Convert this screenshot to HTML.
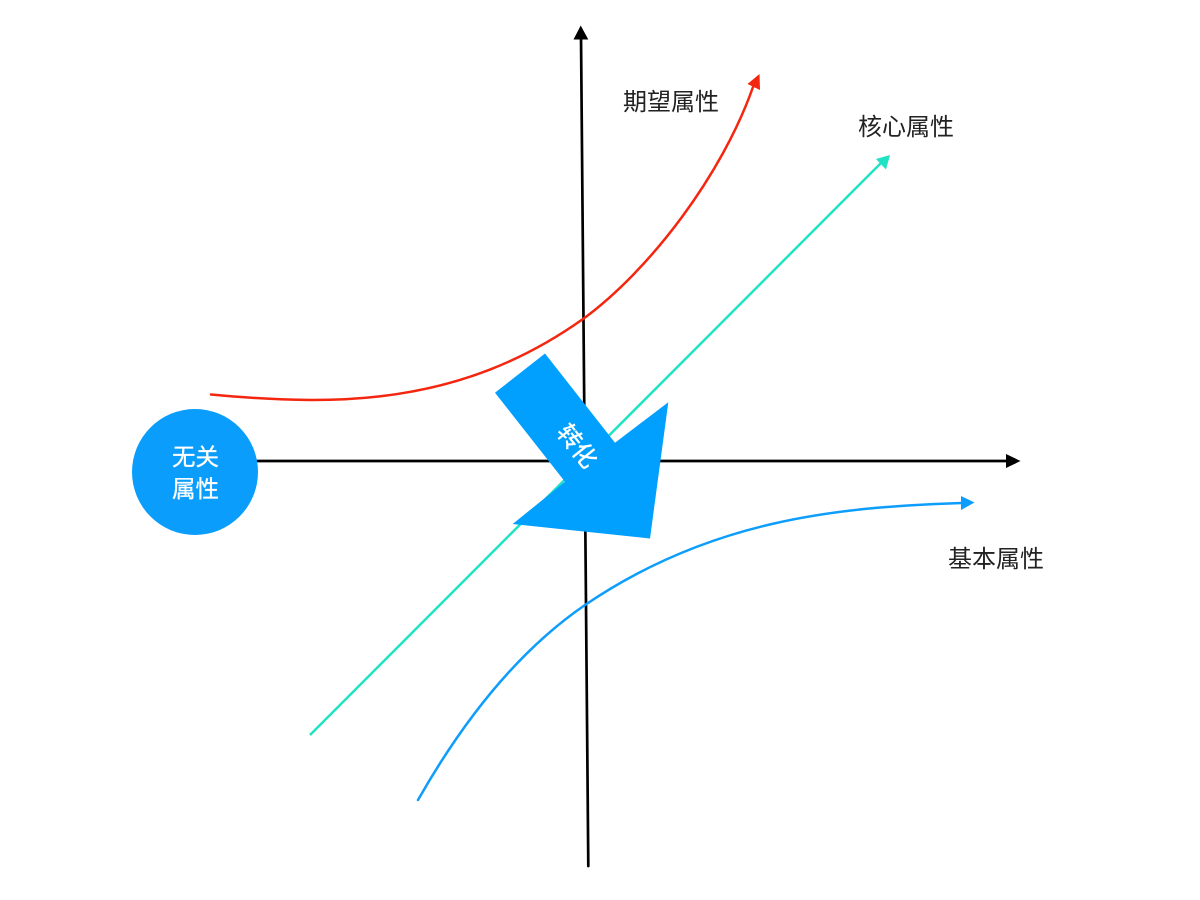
<!DOCTYPE html>
<html>
<head>
<meta charset="utf-8">
<style>
html,body{margin:0;padding:0;background:#fff;width:1200px;height:900px;overflow:hidden}
svg{display:block}
text{font-family:"Liberation Sans","Noto Sans CJK SC",sans-serif}
</style>
</head>
<body>
<svg width="1200" height="900" viewBox="0 0 1200 900" xmlns="http://www.w3.org/2000/svg">
<rect width="1200" height="900" fill="#fff"/>
<!-- axes -->
<line x1="588.3" y1="866" x2="581" y2="36" stroke="#000" stroke-width="2.7" stroke-linecap="round"/>
<polygon points="580.7,25.5 573.5,39.5 588.3,39.5" fill="#000"/>
<line x1="250" y1="461" x2="1008" y2="461" stroke="#000" stroke-width="2.7"/>
<polygon points="1020.5,461 1006,454 1006,468" fill="#000"/>
<!-- red curve -->
<path d="M211 394.5 C 335 406 459 407 583 319 C 650 270 722 175 753 87" fill="none" stroke="#f4260f" stroke-width="2.5" stroke-linecap="round"/>
<polygon points="759.5,74 747.5,84 760,90" fill="#f4260f"/>
<!-- teal line -->
<line x1="310" y1="735" x2="882" y2="162" stroke="#1fe3c2" stroke-width="2.5"/>
<polygon points="890,155 876,159 886,169.5" fill="#1fe3c2"/>
<!-- blue curve -->
<path d="M418 800 C 460 726 515 653 585 605 C 710 520 837 507 962 503" fill="none" stroke="#0d9dfc" stroke-width="2.5" stroke-linecap="round"/>
<polygon points="974.5,502.5 961,496 961,510" fill="#0d9dfc"/>
<!-- big arrow -->
<polygon points="545,353.5 495,392.7 565,481.7 512.7,524 650,538.5 668.3,402.3 615,442.7" fill="#019ffe"/>
<text x="0" y="0" transform="translate(576.5,446.5) rotate(51)" text-anchor="middle" dominant-baseline="central" font-size="24" fill="#fff" stroke="#fff" stroke-width="0.4">转化</text>
<!-- circle -->
<circle cx="195" cy="472" r="63" fill="#0b9dfc"/>
<text x="195.5" y="465" text-anchor="middle" font-size="23.5" fill="#fff" stroke="#fff" stroke-width="0.3">无关</text>
<text x="195.5" y="497" text-anchor="middle" font-size="23.5" fill="#fff" stroke="#fff" stroke-width="0.3">属性</text>
<!-- labels -->
<text x="623" y="110" font-size="24" fill="#222">期望属性</text>
<text x="858" y="135" font-size="24" fill="#222">核心属性</text>
<text x="948" y="567" font-size="24" fill="#222">基本属性</text>
</svg>
</body>
</html>
